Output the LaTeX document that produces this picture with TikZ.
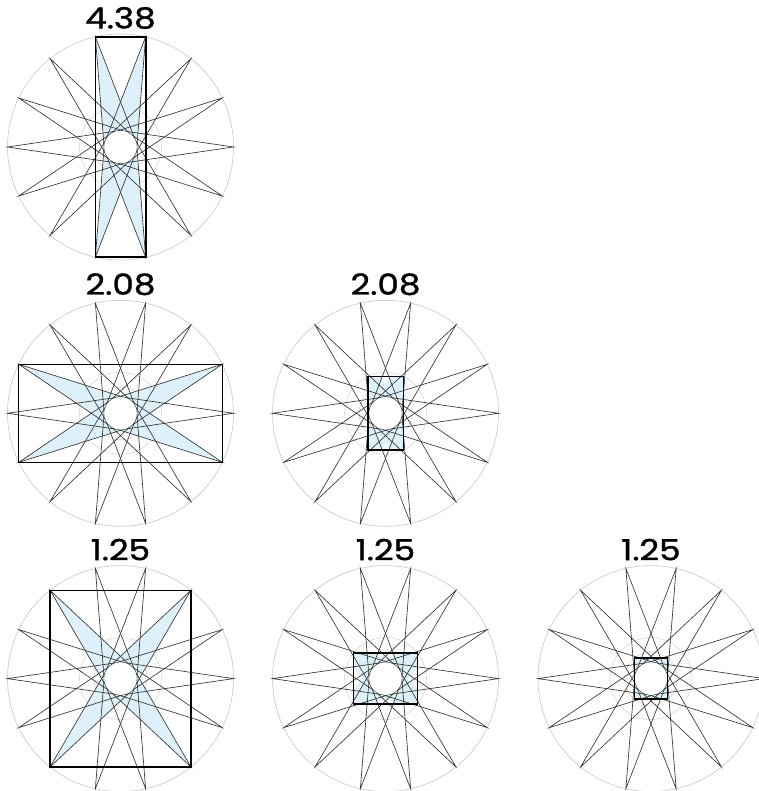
\documentclass[tikz,border=0pt]{standalone}
\usepackage{fontspec}
\setmainfont{Poppins}
\newfontfamily\ratiofont[FakeStretch=1.18,FakeBold=1.2]{Poppins}
\usetikzlibrary{calc}

\definecolor{rimgray}{RGB}{205,205,205}
\definecolor{armblue}{RGB}{222,241,250}

\tikzset{
  rim/.style={draw=rimgray,line width=0.7pt},
  guide/.style={draw=rimgray!80,line width=0.6pt},
  starline/.style={draw=black!80,line width=0.65pt},
  frame/.style={draw=black,line width=1.6pt},
  arm/.style={fill=armblue,draw=none},
  ratio/.style={font=\ratiofont\fontsize{29}{29}\selectfont,inner sep=0pt}
}

% hub radius and the point where two opposite spikes meet
\def\hub{16.3}
\pgfmathsetmacro{\meet}{\hub/sin(acos(\hub/113))}

% a thin blue spike towards angle #1
\newcommand{\spike}[1]{%
  \fill[arm] (#1:113) -- (#1+90:\meet) -- (#1-90:\meet) -- cycle;}

% one panel: centre, node name, label, half width, half height of the frame
\newcommand{\starpanel}[6]{%
  \begin{scope}[shift={(#1,#2)}]
    \draw[rim] (0,0) circle (113);
    \draw[guide] (0,0) circle (41);
    \draw[guide] (0,0) circle (26.5);
    % blue spikes along the diagonals, clipped to the frame
    \begin{scope}
      \clip (-#5,-#6) rectangle (#5,#6);
      \pgfmathsetmacro{\diag}{atan2(#6,#5)}
      \spike{\diag}
      \spike{-\diag}
      \spike{180+\diag}
      \spike{180-\diag}
    \end{scope}
    \foreach \k in {0,...,13} {
      \draw[starline] ({\k*360/14+90}:\meet) -- ({\k*360/14}:113)
        -- ({\k*360/14-90}:\meet);
    }
    \fill[white] (0,0) circle (\hub);
    \draw[frame] (-#5,-#6) rectangle (#5,#6);
    \node[ratio] (#3) at (0,-129) {#4};
  \end{scope}}

\begin{document}
\begin{tikzpicture}[x=1pt,y=-1pt]
  \useasboundingbox (0,0) rectangle (758,791);
  \starpanel{120.5}{147}{tall}{4.38}{25.2}{110.1}
  \starpanel{120.5}{413.3}{wide}{2.08}{102}{49}
  \starpanel{385.5}{413.3}{slim}{2.08}{17.8}{36.9}
  \starpanel{120.5}{678.6}{big}{1.25}{70.5}{88.3}
  \starpanel{385.5}{678.6}{mid}{1.25}{32}{25.6}
  \starpanel{651}{678.6}{small}{1.25}{16.5}{20.6}
\end{tikzpicture}
\end{document}
